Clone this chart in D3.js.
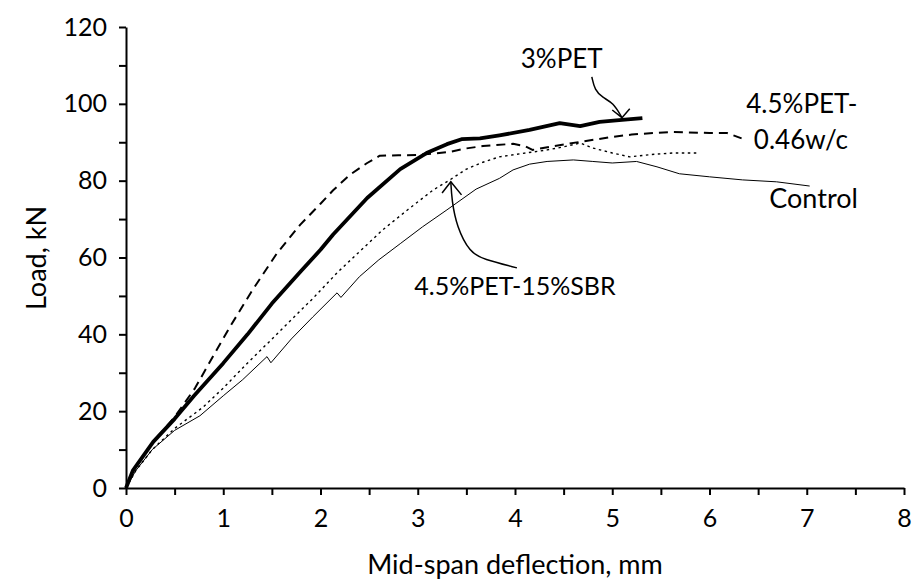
<!DOCTYPE html>
<html>
<head>
<meta charset="utf-8">
<script src="https://cdn.jsdelivr.net/npm/d3@7"></script>
<style>
  body { margin: 0; background: #fff; }
  text { font-family: Lato, 'Open Sans', sans-serif; fill: #000; }
</style>
</head>
<body>
<div class="canvas"></div>
<script>
// axis ticks
const xTicks = d3.range(0, 8.01, 0.5);
const yTicks = d3.range(0, 120.1, 10);

// load-deflection curves [deflection mm, load kN]
const control = [
    [0, 0], [0.1, 4.5], [0.27, 10], [0.5, 15], [0.76, 18.8], [1.0, 24], [1.2, 28.2],
    [1.45, 34.2], [1.49, 32.6], [1.7, 38.8], [1.92, 44.5], [2.17, 50.8], [2.21, 49.6],
    [2.4, 55], [2.6, 59.4], [2.82, 63.6], [3.05, 68], [3.3, 72.4], [3.6, 77.8],
    [3.84, 80.6], [3.98, 82.8], [4.15, 84.3], [4.33, 85], [4.6, 85.4], [4.8, 85],
    [5.0, 84.6], [5.25, 85], [5.46, 83.6], [5.69, 81.8], [6.0, 81], [6.34, 80.2],
    [6.69, 79.7], [7.03, 78.6]
];
const pet3 = [
    [0, 0], [0.07, 4.5], [0.28, 12], [0.5, 18], [0.7, 24], [1.0, 32.5], [1.25, 40],
    [1.5, 48], [1.8, 56.5], [2.0, 62], [2.13, 66], [2.48, 75.5], [2.82, 83], [3.09, 87.2],
    [3.3, 89.5], [3.45, 90.8], [3.64, 91], [3.84, 91.8], [4.15, 93.2], [4.46, 95],
    [4.67, 94.2], [4.87, 95.3], [5.1, 95.8], [5.31, 96.3]
];
const pet45wc = [
    [0, 0], [0.07, 4.5], [0.28, 12], [0.5, 18.5], [0.71, 26], [0.9, 34.5], [1.07, 42],
    [1.3, 51.5], [1.55, 61], [1.79, 68.5], [2.0, 74], [2.13, 77.5], [2.3, 81.5],
    [2.48, 84.6], [2.61, 86.5], [2.8, 86.6], [2.99, 86.7], [3.15, 87], [3.33, 87.5],
    [3.5, 88.4], [3.67, 89], [3.98, 89.6], [4.1, 89], [4.18, 88], [4.4, 89],
    [4.67, 90.1], [5.0, 91.4], [5.2, 92], [5.42, 92.4], [5.62, 92.7], [6.0, 92.4],
    [6.18, 92.4], [6.33, 91]
];
const pet45sbr = [
    [0, 0], [0.1, 4.5], [0.27, 10], [0.5, 15.5], [0.79, 21], [1.0, 26], [1.24, 32.3],
    [1.45, 37.5], [1.58, 40.8], [1.92, 49.3], [2.17, 56], [2.4, 61.5], [2.64, 67.2],
    [2.9, 72.5], [3.16, 77.6], [3.33, 80.2], [3.5, 83], [3.67, 84.8], [3.84, 86.2],
    [4.0, 86.8], [4.33, 88], [4.5, 88.8], [4.67, 89.8], [4.8, 88.5], [5.0, 87.2],
    [5.18, 86.2], [5.4, 86.8], [5.62, 87.2], [5.9, 87.2]
];

// labels and their arrows, in data units
const labels = [
    { text: '3%PET', x: 4.48, y: 109.4, size: 26 },
    { text: '4.5%PET-', x: 6.95, y: 97.7, size: 26 },
    { text: '0.46w/c', x: 6.94, y: 88.3, size: 26 },
    { text: 'Control', x: 7.07, y: 72.9, size: 27 },
    { text: '4.5%PET-15%SBR', x: 4.0, y: 50.3, size: 25 }
];
const arrows = [
    { shaft: [[4.79, 107], [4.82, 103.6], [4.9, 101.6], [5.01, 100.3], [5.1, 96.4]],
      head: [[5.0, 98.4], [5.1, 96.4], [5.18, 98.7]] },
    { shaft: [[4.02, 57.3], [3.67, 59.6], [3.54, 61.2], [3.4, 68], [3.35, 75], [3.34, 79.7]],
      head: [[3.25, 76.8], [3.34, 79.7], [3.45, 76.3]] }
];

const svg = d3.select('.canvas')
    .append('svg')
    .attr('width', 913)
    .attr('height', 581);

const x = d3.scaleLinear().domain([0, 8]).range([126, 904]);
const y = d3.scaleLinear().domain([0, 120]).range([488, 27]);

const line = d3.line()
    .x(d => x(d[0]))
    .y(d => y(d[1]));

const series = [
    { data: control, width: 1, dash: null },
    { data: pet45sbr, width: 1.4, dash: '2.5,3.5' },
    { data: pet45wc, width: 2, dash: '9,6' },
    { data: pet3, width: 3.8, dash: null }
];

svg.selectAll('.curve')
    .data(series)
    .enter()
    .append('path')
    .attr('class', 'curve')
    .attr('fill', 'none')
    .attr('stroke', '#000')
    .attr('stroke-width', d => d.width)
    .attr('stroke-dasharray', d => d.dash)
    .attr('stroke-linejoin', 'round')
    .attr('d', d => line(d.data));

// axes
const xAxis = svg.append('g')
    .attr('transform', `translate(0, ${y(0)})`)
    .call(d3.axisBottom(x)
        .tickValues(xTicks)
        .tickSize(7)
        .tickSizeOuter(0)
        .tickPadding(14)
        .tickFormat(d => Number.isInteger(d) ? d : ''));

const yAxis = svg.append('g')
    .attr('transform', `translate(${x(0)}, 0)`)
    .call(d3.axisLeft(y)
        .tickValues(yTicks)
        .tickSize(7)
        .tickSizeOuter(0)
        .tickPadding(12)
        .tickFormat(d => d % 20 === 0 ? d : ''));

[xAxis, yAxis].forEach(g => {
    g.select('.domain').attr('stroke', '#000').attr('stroke-width', 2);
    g.selectAll('.tick line').attr('stroke', '#000').attr('stroke-width', 2);
    g.selectAll('.tick text')
        .attr('font-family', 'Lato, sans-serif')
        .attr('font-size', 25)
        .attr('fill', '#000');
});

svg.append('text')
    .attr('x', 515)
    .attr('y', 574)
    .attr('text-anchor', 'middle')
    .attr('font-size', 27)
    .text('Mid-span deflection, mm');

svg.append('text')
    .attr('transform', 'translate(46, 258) rotate(-90)')
    .attr('text-anchor', 'middle')
    .attr('font-size', 27)
    .text('Load, kN');

// annotations
const arrowLine = d3.line()
    .x(d => x(d[0]))
    .y(d => y(d[1]))
    .curve(d3.curveBasis);

arrows.forEach(a => {
    svg.append('path')
        .attr('fill', 'none')
        .attr('stroke', '#000')
        .attr('stroke-width', 1.5)
        .attr('d', arrowLine(a.shaft));
    svg.append('path')
        .attr('fill', 'none')
        .attr('stroke', '#000')
        .attr('stroke-width', 1.5)
        .attr('d', line(a.head));
});

svg.selectAll('.label')
    .data(labels)
    .enter()
    .append('text')
    .attr('class', 'label')
    .attr('x', d => x(d.x))
    .attr('y', d => y(d.y))
    .attr('text-anchor', 'middle')
    .attr('font-size', d => d.size)
    .text(d => d.text);
</script>
</body>
</html>
